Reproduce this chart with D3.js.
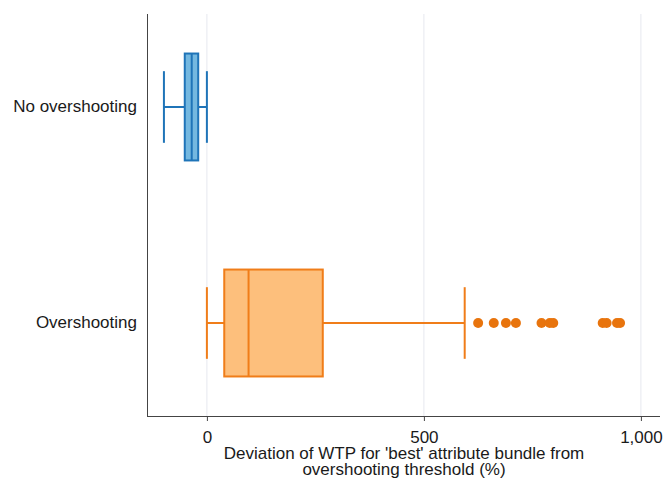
<!DOCTYPE html>
<html>
<head>
<meta charset="utf-8">
<script src="https://cdn.jsdelivr.net/npm/d3@7"></script>
<style>
  body { margin: 0; background: #fff; }
  svg { font-family: "Liberation Sans", Arial, sans-serif; }
</style>
</head>
<body>
<svg id="chart" width="664" height="482"></svg>
<script>
// groups, top to bottom
const groups = ["No overshooting", "Overshooting"];
// box statistics
const lowerWhisker = [-99, 0];
const q1 = [-51, 40];
const median = [-35, 96];
const q3 = [-20, 267];
const upperWhisker = [0, 594];
// outliers (only the Overshooting group has any)
const outliers = [[], [625, 661, 689, 712, 771, 790, 798, 912, 921, 945, 952]];
const xTicks = [0, 500, 1000];
const fills = ["#74b8e0", "#fdbf7c"];
const strokes = ["#1f74b8", "#f07d19"];
const dotColor = "#e8740d";

const svg = d3.select("#chart");
const margin = { left: 147, right: 4, top: 14, bottom: 66 };
const width = 664, height = 482;
const fontSize = 17;

const x = d3.scaleLinear()
    .domain([-138, 1044])
    .range([margin.left, width - margin.right]);

const y = d3.scaleBand()
    .domain(groups)
    .range([margin.top, height - margin.bottom])
    .paddingInner(0.505)
    .paddingOuter(0.183);

// gridlines
svg.append("g")
    .selectAll("line")
    .data(xTicks)
    .join("line")
    .attr("x1", d => x(d)).attr("x2", d => x(d))
    .attr("y1", margin.top).attr("y2", height - margin.bottom)
    .attr("stroke", "#e6e8ef")
    .attr("stroke-width", 1);

// bottom axis
const xAxis = svg.append("g")
    .attr("transform", `translate(0,${height - margin.bottom})`)
    .call(d3.axisBottom(x).tickValues(xTicks).tickSize(5).tickPadding(10).tickFormat(d3.format(",")));
xAxis.select(".domain").attr("stroke", "#444").attr("d", `M${margin.left},0.5H${width - margin.right}`);
xAxis.selectAll(".tick line").attr("stroke", "#444");
xAxis.selectAll(".tick text").attr("font-size", fontSize).attr("fill", "#1a1a1a");

// left axis
const yAxis = svg.append("g")
    .attr("transform", `translate(${margin.left},0)`)
    .call(d3.axisLeft(y).tickSize(0).tickPadding(10));
yAxis.select(".domain").attr("stroke", "#444").attr("d", `M0.5,${margin.top}V${height - margin.bottom}`);
yAxis.selectAll(".tick text").attr("font-size", fontSize).attr("fill", "#1a1a1a");

// x axis title
svg.append("text")
    .attr("x", 404).attr("y", 459)
    .attr("text-anchor", "middle")
    .attr("font-size", fontSize).attr("fill", "#1a1a1a")
    .text("Deviation of WTP for 'best' attribute bundle from");
svg.append("text")
    .attr("x", 404).attr("y", 475)
    .attr("text-anchor", "middle")
    .attr("font-size", fontSize).attr("fill", "#1a1a1a")
    .text("overshooting threshold (%)");

// boxes
groups.forEach((g, i) => {
    const cy = y(g) + y.bandwidth() / 2;
    const bh = y.bandwidth();
    const capH = bh * 0.67;
    const grp = svg.append("g");

    // whisker lines
    grp.append("line")
        .attr("x1", x(lowerWhisker[i])).attr("x2", x(q1[i]))
        .attr("y1", cy).attr("y2", cy)
        .attr("stroke", strokes[i]).attr("stroke-width", 2);
    grp.append("line")
        .attr("x1", x(q3[i])).attr("x2", x(upperWhisker[i]))
        .attr("y1", cy).attr("y2", cy)
        .attr("stroke", strokes[i]).attr("stroke-width", 2);
    // whisker caps
    [lowerWhisker[i], upperWhisker[i]].forEach(v => {
        grp.append("line")
            .attr("x1", x(v)).attr("x2", x(v))
            .attr("y1", cy - capH / 2).attr("y2", cy + capH / 2)
            .attr("stroke", strokes[i]).attr("stroke-width", 2);
    });
    // box
    grp.append("rect")
        .attr("x", x(q1[i])).attr("y", cy - bh / 2)
        .attr("width", x(q3[i]) - x(q1[i])).attr("height", bh)
        .attr("fill", fills[i])
        .attr("stroke", strokes[i]).attr("stroke-width", 2);
    // median
    grp.append("line")
        .attr("x1", x(median[i])).attr("x2", x(median[i]))
        .attr("y1", cy - bh / 2).attr("y2", cy + bh / 2)
        .attr("stroke", strokes[i]).attr("stroke-width", 2);
    // outliers
    grp.selectAll("circle")
        .data(outliers[i])
        .join("circle")
        .attr("cx", d => x(d)).attr("cy", cy)
        .attr("r", 5)
        .attr("fill", dotColor);
});
</script>
</body>
</html>
